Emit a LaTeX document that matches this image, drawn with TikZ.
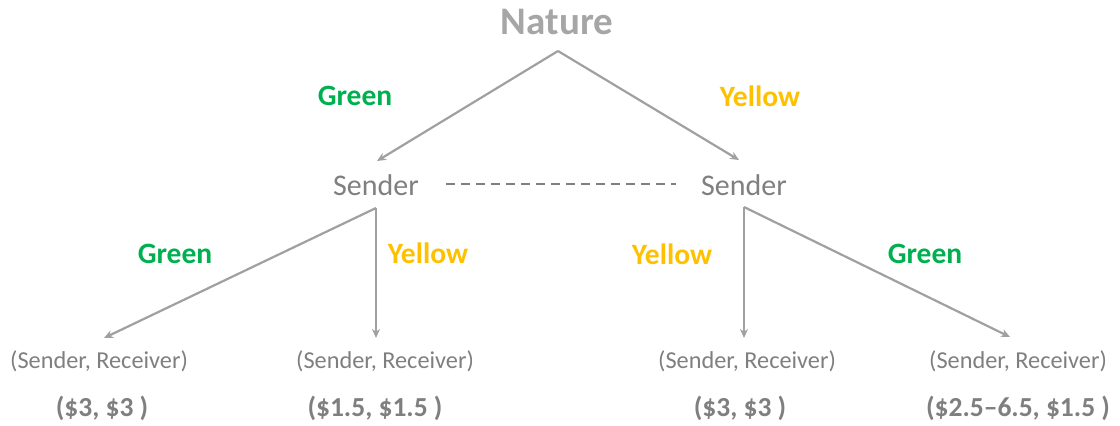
\documentclass[tikz,border=0pt]{standalone}
\usepackage{fontspec}
\setmainfont{Carlito}
\usetikzlibrary{arrows.meta}
\definecolor{grnc}{HTML}{00B050}
\definecolor{ylwc}{HTML}{FFC000}
\definecolor{txtg}{HTML}{7F7F7F}
\definecolor{natg}{HTML}{A6A6A6}
\definecolor{lineg}{HTML}{A0A0A0}
\tikzset{
  arr/.style={draw=lineg, line width=2.2pt, -{Stealth[length=9pt,width=8pt]}},
  sendertxt/.style={text=txtg, font=\fontsize{30}{32}\selectfont, inner sep=0pt},
  leaftxt/.style={text=txtg, font=\fontsize{24.3}{28}\selectfont, inner sep=0pt},
  paytxt/.style={text=txtg, font=\bfseries\fontsize{27.5}{30}\selectfont, inner sep=0pt},
  greenlbl/.style={text=grnc, font=\bfseries\fontsize{29.5}{30}\selectfont, inner sep=0pt},
  yellowlbl/.style={text=ylwc, font=\bfseries\fontsize{29.5}{30}\selectfont, inner sep=0pt},
}
\begin{document}
\begin{tikzpicture}[x=1pt,y=-1pt]
\useasboundingbox (0,0) rectangle (1120,426);
% texts
\node[text=natg, font=\bfseries\fontsize{39}{42}\selectfont, inner sep=0pt] (nature) at (557,22) {Nature};
\node[sendertxt] (sL) at (376,185) {Sender};
\node[sendertxt] (sR) at (744,185) {Sender};
\node[greenlbl] (g1) at (355,96) {Green};
\node[yellowlbl] (y1) at (760,96) {Yellow};
\node[greenlbl] (g2) at (175,254) {Green};
\node[yellowlbl] (y2) at (428,253) {Yellow};
\node[yellowlbl] (y3) at (672,254) {Yellow};
\node[greenlbl] (g3) at (925,254) {Green};
\node[leaftxt] (l1) at (99,361) {(Sender, Receiver)};
\node[leaftxt] (l2) at (385,361) {(Sender, Receiver)};
\node[leaftxt] (l3) at (747,361) {(Sender, Receiver)};
\node[leaftxt] (l4) at (1018,361) {(Sender, Receiver)};
\node[paytxt] (p1) at (102,408) {(\$3, \$3 )};
\node[paytxt] (p2) at (375,408) {(\$1.5, \$1.5 )};
\node[paytxt] (p3) at (740,408) {(\$3, \$3 )};
\node[paytxt] (p4) at (1018,408) {(\$2.5–6.5, \$1.5 )};
% connector points
\coordinate (natA) at (558,51);
\coordinate (sLin) at (377,161);
\coordinate (sRin) at (739,160);
\coordinate (sLA) at (376,208);
\coordinate (sRA) at (744,207);
\coordinate (l1in) at (104,338);
\coordinate (l2in) at (376,338);
\coordinate (l3in) at (744,338);
\coordinate (l4in) at (1010,337);
\coordinate (dashL) at (446,184);
\coordinate (dashR) at (676,184);
% connectors
\draw[arr] (natA) -- (sLin);
\draw[arr] (natA) -- (sRin);
\draw[arr] (sLA) -- (l1in);
\draw[arr] (sLA) -- (l2in);
\draw[arr] (sRA) -- (l3in);
\draw[arr] (sRA) -- (l4in);
\draw[draw=txtg, line width=1.3pt, dash pattern=on 9pt off 6pt] (dashL) -- (dashR);
\end{tikzpicture}
\end{document}
